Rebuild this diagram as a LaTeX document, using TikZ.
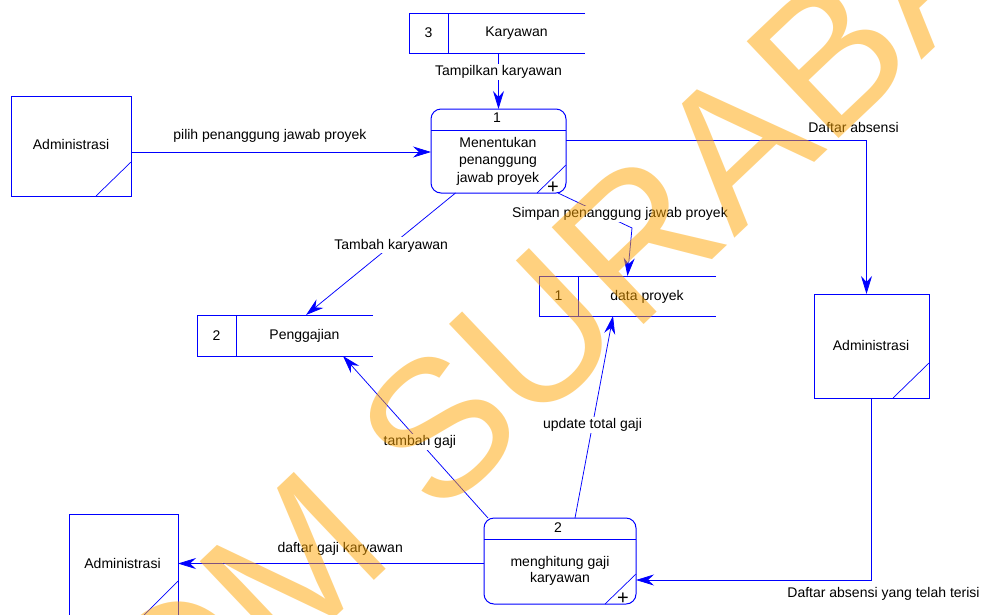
\documentclass[tikz,border=0pt]{standalone}
\usepackage{fontspec}
\setmainfont{Liberation Sans}
\usetikzlibrary{arrows.meta,calc}
\definecolor{dfdblue}{RGB}{0,0,255}
\definecolor{wmorange}{RGB}{255,165,0}
\begin{document}
\begin{tikzpicture}[x=1pt,y=-1pt,
  every node/.style={inner sep=0pt, outer sep=0pt, font=\fontsize{14}{17}\selectfont},
  border/.style={draw=dfdblue, line width=1pt},
  thinline/.style={draw=dfdblue, line width=0.7pt},
  entity/.style={draw=dfdblue, line width=1pt, rectangle},
  proc/.style={draw=dfdblue, line width=1pt, rounded corners=10pt},
  storebox/.style={rectangle},
  flow/.style={draw=dfdblue, line width=0.75pt, -{Stealth[length=18pt,width=11pt,inset=6pt]}},
  lbl/.style={fill=white, inner sep=1.5pt},
  plus/.style={font=\fontsize{20}{20}\selectfont},
  watermark/.style={font=\fontsize{194}{194}\selectfont, text=wmorange, opacity=0.5, text opacity=0.5, rotate=43.5}
]
\fill[white] (0,0) rectangle (985,614);
\useasboundingbox (0,0) rectangle (985,614);

% ---------- external entities ----------
\node[entity, minimum width=120pt, minimum height=100pt] (adm1) at (71,146) {};
\draw[thinline] ($(adm1.south east)+(-35,0)$) -- ($(adm1.south east)+(0,-34)$);
\node (adm1t) at (71,144) {Administrasi};

\node[entity, minimum width=115pt, minimum height=104pt] (adm2) at (871.5,346) {};
\draw[thinline] ($(adm2.south east)+(-36,0)$) -- ($(adm2.south east)+(0,-35)$);
\node (adm2t) at (871,345.5) {Administrasi};

\node[entity, minimum width=109pt, minimum height=102pt] (adm3) at (123.5,565) {};
\draw[thinline] ($(adm3.south east)+(-35,0)$) -- ($(adm3.south east)+(0,-35)$);
\node (adm3t) at (122.5,563.5) {Administrasi};

% ---------- data stores ----------
\node[storebox, minimum width=176pt, minimum height=40pt] (s3) at (497,33) {};
\draw[border] (s3.north east) -- (s3.north west) -- (s3.south west) -- (s3.south east);
\draw[border] ($(s3.north west)+(39,0)$) -- ($(s3.south west)+(39,0)$);
\node (s3n) at (428.5,33) {3};
\node (s3t) at (516.5,33.5) {Karyawan};

\node[storebox, minimum width=176pt, minimum height=41pt] (s2) at (285,335.5) {};
\draw[border] (s2.north east) -- (s2.north west) -- (s2.south west) -- (s2.south east);
\draw[border] ($(s2.north west)+(39,0)$) -- ($(s2.south west)+(39,0)$);
\node (s2n) at (216.5,335.5) {2};
\node (s2t) at (304.5,336) {Penggajian};

\node[storebox, minimum width=177pt, minimum height=40pt] (s1) at (627.5,296) {};
\draw[border] (s1.north east) -- (s1.north west) -- (s1.south west) -- (s1.south east);
\draw[border] ($(s1.north west)+(39,0)$) -- ($(s1.south west)+(39,0)$);
\node (s1n) at (558.5,296) {1};
\node (s1t) at (647,296.5) {data proyek};

% ---------- processes ----------
\node[proc, minimum width=135pt, minimum height=84pt] (p1) at (498.5,151) {};
\draw[border] ($(p1.north west)+(0,21)$) -- ($(p1.north east)+(0,21)$);
\draw[thinline] ($(p1.south east)+(-29,0)$) -- ($(p1.south east)+(0,-28)$);
\node (p1n) at (497,118) {1};
\node[align=center, font=\fontsize{14}{17.5}\selectfont] (p1t) at (498,161) {Menentukan\\penanggung\\jawab proyek};
\node[plus] (p1p) at (553,187.5) {+};

\node[proc, minimum width=152pt, minimum height=86pt] (p2) at (560,561) {};
\draw[border] ($(p2.north west)+(0,21)$) -- ($(p2.north east)+(0,21)$);
\draw[thinline] ($(p2.south east)+(-31,0)$) -- ($(p2.south east)+(0,-30)$);
\node (p2n) at (558,527.5) {2};
\node[align=center, font=\fontsize{14}{16.5}\selectfont] (p2t) at (560,571) {menghitung gaji\\karyawan};
\node[plus] (p2p) at (623,598.5) {+};

% ---------- data flows ----------
\draw[flow] (s3.south -| p1.north) -- (p1.north)
  node[lbl, pos=0.34] (f1) {Tampilkan karyawan};

\draw[flow] ($(adm1.east)+(0,6)$) coordinate (a1) -- (a1 -| p1.west)
  node[pos=0.463, yshift=16pt] (f2) {pilih penanggung jawab proyek};

\draw[flow] ($(p1.east)+(0,-11)$) -| ($(adm2.north)+(-5,0)$)
  node[pos=0.5, xshift=-13pt, yshift=13pt] (f3) {Daftar absensi};

\draw[flow] (adm2.south) |- ($(p2.east)+(0,19)$)
  node[pos=0.5, xshift=12pt, yshift=-14pt] (f4) {Daftar absensi yang telah terisi};

\draw[flow] ($(p2.west)+(0,2.5)$) coordinate (a5) -- (a5 -| adm3.east)
  node[pos=0.47, yshift=15pt] (f5) {daftar gaji karyawan};

\draw[flow] ($(p1.south)+(-43,0)$) -- ($(s2.north)+(21,0)$)
  node[lbl, pos=0.43] (f6) {Tambah karyawan};

\coordinate (bend1) at (632,228);
\draw[flow] ($(p1.south)+(59.5,0)$) -- (bend1) -- (s1.north);
\node[lbl] (f7) at (620,214) {Simpan penanggung jawab proyek};

\draw[flow] ($(p2.north)+(15,0)$) -- ($(s1.south)+(-14.5,0)$)
  node[lbl, pos=0.46] (f8) {update total gaji};

\draw[flow] ($(p2.north west)+(4,0)$) -- ($(s2.south)+(58,0)$)
  node[lbl, pos=0.47] (f9) {tambah gaji};

% ---------- watermark ----------
\node[watermark] (wm) at (474.6,393.1) {STIKOM SURABAYA};
\end{tikzpicture}
\end{document}
